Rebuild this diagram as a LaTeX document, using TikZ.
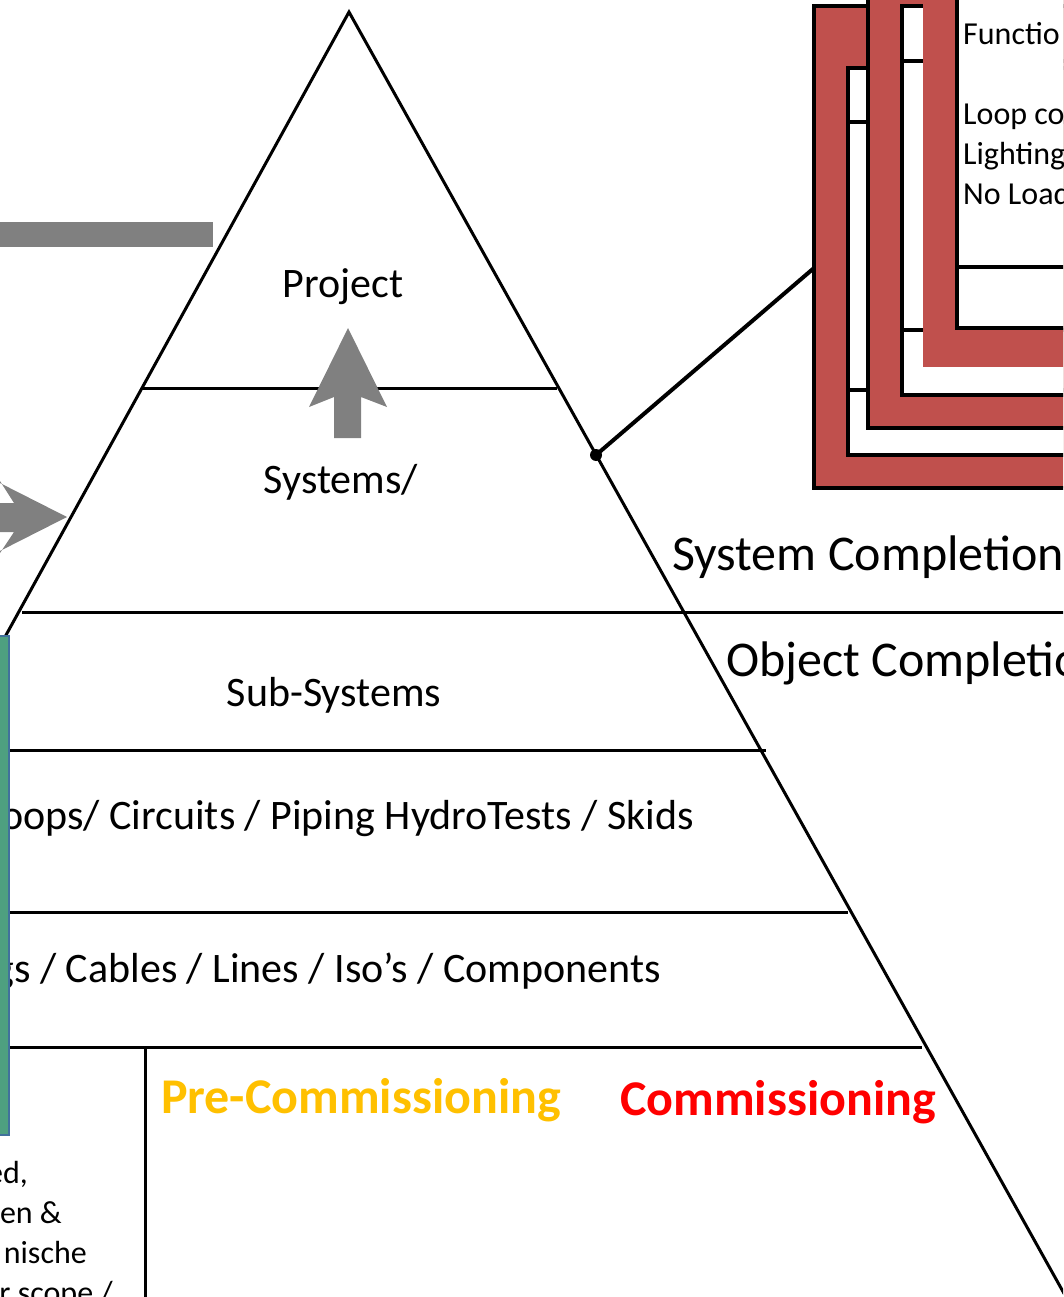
\documentclass[tikz,border=0pt]{standalone}
\usepackage{fontspec}
\setmainfont{Carlito}
\definecolor{framered}{RGB}{192,80,77}
\definecolor{arrowgray}{RGB}{128,128,128}
\definecolor{preorange}{RGB}{255,192,0}
\definecolor{comred}{RGB}{255,0,0}
\definecolor{boxgreen}{RGB}{78,160,128}
\definecolor{boxblue}{RGB}{65,113,156}
\begin{document}
\begin{tikzpicture}[x=1pt,y=-1pt]
\tikzset{
  tri/.style={line width=3pt},
  frameline/.style={line width=3.2pt},
  lvl/.style={anchor=base, inner sep=0pt, font=\fontsize{42}{50}\selectfont},
  lvlr/.style={anchor=base east, inner sep=0pt, font=\fontsize{42}{50}\selectfont},
  compl/.style={anchor=base west, inner sep=0pt, font=\fontsize{50}{60}\selectfont},
  phase/.style={anchor=base, inner sep=0pt, font=\fontsize{50}{60}\selectfont\bfseries},
  small/.style={anchor=base west, inner sep=0pt, font=\fontsize{32}{38}\selectfont},
  smallr/.style={anchor=base east, inner sep=0pt, font=\fontsize{32}{38}\selectfont},
  grayarrow/.style={fill=arrowgray},
}
\useasboundingbox (0,0) rectangle (1063,1297);
\clip (0,0) rectangle (1063,1297);

% gray bar
\fill[arrowgray] (-5,222) rectangle (213,247);

% texts of the pyramid (drawn before green box)
\node[lvl] (project) at (343,297) {Project};
\node[lvl] (systems) at (341,493) {Systems/};
\node[lvl] (subsys) at (334,706) {Sub-Systems};
\node[lvlr] (loops) at (694,829) {Loops/ Circuits / Piping HydroTests / Skids};
\node[lvlr] (tags) at (661,982) {Tags / Cables / Lines / Iso’s / Components};
\node[compl] (syscomp) at (672,570) {System Completion};
\node[compl] (objcomp) at (726,676) {Object Completion};
\node[phase, text=preorange] (precom) at (361,1113) {Pre-Commissioning};
\node[phase, text=comred] (com) at (778,1115) {Commissioning};

% bottom-left text fragments
\node[smallr] (t1) at (28,1183) {ed,};
\node[smallr] (t2) at (62,1223) {en \&};
\node[smallr] (t3) at (87,1263) {nische};
\node[smallr] (t4) at (113,1303) {r scope /};

% pyramid lines
\coordinate (apex) at (349,12);
\coordinate (lend) at (0,646);
\coordinate (rend) at (1066,1297);
\draw[tri, line join=miter] (lend) -- (apex) -- (rend);
\draw[tri] (142,388) -- (557,388);
\draw[tri] (22,612) -- (1070,612);
\draw[tri] (0,750) -- (766,750);
\draw[tri] (0,912) -- (848,912);
\draw[tri] (0,1047) -- (922,1047);
\draw[tri] (145,1047) -- (145,1300);

% up arrow
\fill[grayarrow] (348,328) -- (387,407) -- (361,397) -- (361,438) -- (334,438) -- (334,397) -- (309,407) -- cycle;
% right arrow
\fill[grayarrow] (67,517) -- (-8,555) -- (0,553) -- (14,532) -- (-8,532) -- (-8,503) -- (14,503) -- (0,481) -- (-8,479) -- cycle;

% green box
\draw[fill=boxgreen, draw=boxblue, line width=1.5pt] (-5,636) rectangle (9,1135);

% stacked frames
% layer 1
\draw[frameline, fill=framered] (814,6) rectangle (1080,488);
\draw[frameline, fill=white] (848,68) rectangle (1080,455);
\draw[frameline] (848,122) -- (1080,122);
\draw[frameline] (848,390) -- (1080,390);
% layer 2
\draw[frameline, fill=framered] (868,-10) rectangle (1080,428);
\draw[frameline, fill=white] (902,6) rectangle (1080,395);
\draw[frameline] (902,61) -- (1080,61);
\draw[frameline] (902,330) -- (1080,330);
% layer 3
\fill[framered] (923,-10) rectangle (1080,367);
\draw[frameline, fill=white] (957,-10) rectangle (1080,328);
\draw[frameline] (957,267) -- (1080,267);

\node[small] (f1) at (963,45) {Functio};
\node[small] (f2) at (963,125) {Loop co};
\node[small] (f3) at (963,165) {Lighting};
\node[small] (f4) at (963,205) {No Load};

% connector
\node[circle, fill=black, inner sep=0pt, minimum size=12pt] (dot) at (596,455) {};
\coordinate (framein) at (814,268);
\draw[line width=4pt] (dot.center) -- (framein);
\end{tikzpicture}
\end{document}
